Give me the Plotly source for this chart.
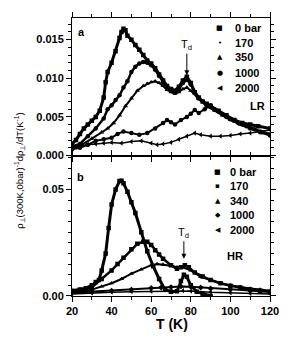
import plotly.graph_objects as go

# ---------------- data: panel a (LR) ----------------
a_labels = ["0 bar", "170", "350", "1000", "2000"]
a_symbols = ["square", "circle", "triangle-up", "circle", "triangle-left"]
a_glyphs = ["■", "•", "▲", "●", "◀"]

a0_T = [20, 22, 24, 26, 28, 30, 32, 34, 36, 37, 38, 40, 42, 44, 45, 46, 47, 48, 50, 52, 54, 56, 58, 60, 62, 64,
        66, 68, 70, 72, 74, 76, 78, 80, 82, 84, 86, 88, 90, 94, 98, 102, 106, 110, 114, 120]
a0_v = [0.0015, 0.0020, 0.0028, 0.0035, 0.0040, 0.0045, 0.0050, 0.0058, 0.0075, 0.0095, 0.0108, 0.0120, 0.0135,
        0.0152, 0.0160, 0.0164, 0.0162, 0.0155, 0.0150, 0.0143, 0.0137, 0.0130, 0.0123, 0.0119, 0.0113, 0.0105,
        0.0097, 0.0090, 0.0086, 0.0084, 0.0089, 0.0097, 0.0102, 0.0094, 0.0082, 0.0075, 0.0070, 0.0067, 0.0064,
        0.0058, 0.0052, 0.0046, 0.0042, 0.0040, 0.0038, 0.0035]

a1_T = [20, 24, 28, 32, 36, 38, 40, 42, 44, 46, 48, 50, 52, 54, 56, 58, 60, 62, 64, 66, 68, 70, 72, 74, 76, 78,
        80, 82, 84, 88, 92, 96, 100, 104, 108, 112, 116, 120]
a1_v = [0.0012, 0.0015, 0.0025, 0.0035, 0.0048, 0.0060, 0.0065, 0.0072, 0.0078, 0.0088, 0.0096, 0.0108, 0.0115,
        0.0119, 0.0121, 0.0120, 0.0117, 0.0111, 0.0103, 0.0095, 0.0088, 0.0084, 0.0082, 0.0086, 0.0094, 0.0098,
        0.0092, 0.0082, 0.0074, 0.0066, 0.0060, 0.0053, 0.0047, 0.0042, 0.0038, 0.0034, 0.0030, 0.0027]

a2_T = [20, 25, 30, 35, 38, 41, 44, 47, 50, 53, 56, 58, 60, 62, 64, 66, 68, 70, 72, 74, 76, 78, 80, 84, 88, 92,
        96, 100, 105, 110, 115, 120]
a2_v = [0.0010, 0.0014, 0.0022, 0.0030, 0.0035, 0.0042, 0.0052, 0.0064, 0.0074, 0.0084, 0.0090, 0.0093, 0.0095,
        0.0096, 0.0094, 0.0090, 0.0085, 0.0082, 0.0080, 0.0082, 0.0086, 0.0088, 0.0084, 0.0073, 0.0064, 0.0058,
        0.0052, 0.0046, 0.0040, 0.0035, 0.0031, 0.0028]

a3_T = [20, 24, 28, 32, 36, 40, 43, 46, 50, 54, 58, 62, 66, 68, 70, 72, 75, 78, 80, 82, 84, 87, 90, 94, 98, 102,
        106, 110, 115, 120]
a3_v = [0.0008, 0.0010, 0.0014, 0.0019, 0.0021, 0.0023, 0.0028, 0.0031, 0.0029, 0.0027, 0.0029, 0.0035, 0.0042,
        0.0046, 0.0043, 0.0040, 0.0046, 0.0050, 0.0054, 0.0059, 0.0055, 0.0060, 0.0065, 0.0057, 0.0050, 0.0045,
        0.0040, 0.0035, 0.0030, 0.0026]

a4_T = [20, 24, 28, 32, 36, 40, 45, 50, 55, 60, 63, 66, 70, 74, 78, 82, 85, 90, 95, 100, 105, 110, 115, 120]
a4_v = [0.0008, 0.0012, 0.0014, 0.0015, 0.0016, 0.0017, 0.0016, 0.0018, 0.0019, 0.0016, 0.0014, 0.0015, 0.0017,
        0.0021, 0.0025, 0.0029, 0.0027, 0.0025, 0.0025, 0.0026, 0.0028, 0.0029, 0.0031, 0.0033]

# ---------------- data: panel b (HR) ----------------
b_labels = ["0 bar", "170", "340", "1000", "2000"]
b_symbols = ["square", "square", "triangle-up", "diamond", "triangle-left"]
b_glyphs = ["■", "▪", "▲", "◆", "◀"]

b0_T = [20, 24, 27, 30, 32, 33.6, 35, 37, 38.5, 40, 42, 44, 45, 46, 48, 50, 52, 55, 58, 61, 64, 67, 70, 73, 75,
        76.5, 78, 80, 83, 86, 90]
b0_v = [0.0025, 0.0030, 0.0037, 0.0050, 0.0066, 0.0075, 0.0120, 0.0200, 0.0320, 0.0430, 0.0500, 0.0540, 0.0542,
        0.0530, 0.0490, 0.0440, 0.0390, 0.0300, 0.0210, 0.0140, 0.0080, 0.0030, 0.0020, 0.0022, 0.0070, 0.0100,
        0.0090, 0.0050, 0.0020, 0.0010, 0.0000]

b1_T = [20, 25, 30, 35, 40, 43, 46, 50, 53, 56, 58, 60, 62, 64, 66, 70, 73, 75, 77, 79, 82, 86, 90, 95, 100, 105,
        110, 115, 120]
b1_v = [0.0020, 0.0025, 0.0040, 0.0080, 0.0120, 0.0150, 0.0180, 0.0220, 0.0245, 0.0255, 0.0255, 0.0240, 0.0215,
        0.0195, 0.0175, 0.0145, 0.0128, 0.0135, 0.0145, 0.0135, 0.0110, 0.0092, 0.0075, 0.0060, 0.0048, 0.0040,
        0.0030, 0.0025, 0.0020]

b2_T = [20, 25, 30, 35, 40, 45, 50, 55, 60, 63, 66, 70, 73, 76, 80, 85, 90, 95, 100, 105, 110, 115, 120]
b2_v = [0.0015, 0.0020, 0.0030, 0.0045, 0.0060, 0.0080, 0.0105, 0.0125, 0.0145, 0.0150, 0.0148, 0.0142, 0.0135,
        0.0135, 0.0120, 0.0090, 0.0075, 0.0060, 0.0050, 0.0042, 0.0035, 0.0030, 0.0025]

b3_T = [20, 30, 40, 50, 60, 65, 70, 75, 80, 85, 90, 100, 110, 120]
b3_v = [0.0015, 0.0020, 0.0025, 0.0030, 0.0038, 0.0040, 0.0042, 0.0045, 0.0043, 0.0040, 0.0035, 0.0030, 0.0025,
        0.0020]

b4_T = [20, 30, 40, 50, 60, 70, 76, 80, 90, 100, 110, 120]
b4_v = [0.0010, 0.0015, 0.0018, 0.0020, 0.0022, 0.0023, 0.0025, 0.0023, 0.0018, 0.0015, 0.0012, 0.0010]

# tick labels
x_ticks = [20, 40, 60, 80, 100, 120]
a_yticks = [0.000, 0.005, 0.010, 0.015]
b_yticks = [0.00, 0.05]

a_series = [(a0_T, a0_v), (a1_T, a1_v), (a2_T, a2_v), (a3_T, a3_v), (a4_T, a4_v)]
b_series = [(b0_T, b0_v), (b1_T, b1_v), (b2_T, b2_v), (b3_T, b3_v), (b4_T, b4_v)]

FONT = "Liberation Sans, Arial, sans-serif"

fig = go.Figure()
a_widths = [3, 2.5, 2, 2, 1.5]
b_widths = [3, 2.5, 2, 2, 1.5]
for (T, v), sym, name, lw in zip(a_series, a_symbols, a_labels, a_widths):
    fig.add_trace(go.Scatter(x=T, y=v, mode="lines+markers", name=name, xaxis="x2", yaxis="y2",
                             line=dict(color="black", width=lw),
                             marker=dict(symbol=sym, size=4.5, color="black"), showlegend=False))
for (T, v), sym, name, lw in zip(b_series, b_symbols, b_labels, b_widths):
    fig.add_trace(go.Scatter(x=T, y=v, mode="lines+markers", name=name, xaxis="x", yaxis="y",
                             line=dict(color="black", width=lw),
                             marker=dict(symbol=sym, size=4.5, color="black"), showlegend=False))

W, H = 291, 341
L, R, Tm, B = 72, 15, 13, 45
plot_h = H - Tm - B
split = (296 - 153) / plot_h

axis_common = dict(showline=True, linecolor="black", linewidth=1, mirror="ticks", ticks="outside",
                   ticklen=5, tickwidth=1, tickcolor="black", showgrid=False, zeroline=False,
                   tickfont=dict(family=FONT, size=11, color="black", weight="bold"))

fig.update_layout(
    width=W, height=H, margin=dict(l=L, r=R, t=Tm, b=B),
    paper_bgcolor="white", plot_bgcolor="white", showlegend=False,
    font=dict(family=FONT, color="black"),
    xaxis=dict(axis_common, range=[20, 120], tickvals=x_ticks, anchor="y", domain=[0, 1],
               minor=dict(dtick=10, tick0=0, ticklen=3, ticks="outside", tickcolor="black", showgrid=False)),
    xaxis2=dict(axis_common, range=[20, 120], tickvals=x_ticks, anchor="y2", matches="x", showticklabels=False,
                domain=[0, 1],
                minor=dict(dtick=10, tick0=0, ticklen=3, ticks="outside", tickcolor="black", showgrid=False)),
    yaxis=dict(axis_common, range=[0, 0.066], tickvals=b_yticks, tickformat=".2f", domain=[0, split],
               anchor="x",
               minor=dict(dtick=0.005, tick0=0, ticklen=3, ticks="outside", tickcolor="black", showgrid=False)),
    yaxis2=dict(axis_common, range=[0, 0.0178], tickvals=a_yticks, tickformat=".3f", domain=[split, 1],
                anchor="x2",
                minor=dict(dtick=0.001, tick0=0, ticklen=3, ticks="outside", tickcolor="black", showgrid=False)),
)

# helpers: convert window-pixel positions of the reference into paper coords
def px_x(p):
    return (p - L) / (W - L - R)

def px_y(q):
    return (H - B - q) / plot_h

ann = []
# panel letters
ann.append(dict(text="<b>a</b>", x=px_x(82), y=px_y(27), xref="paper", yref="paper", showarrow=False,
                font=dict(size=11, family=FONT), xanchor="center", yanchor="middle"))
ann.append(dict(text="<b>b</b>", x=px_x(81), y=px_y(175), xref="paper", yref="paper", showarrow=False,
                font=dict(size=11, family=FONT), xanchor="center", yanchor="middle"))

# legends (as text)
a_rows = [23, 38, 53, 69, 84]
for g, lab, yy in zip(a_glyphs, a_labels, a_rows):
    ann.append(dict(text=g, x=px_x(224), y=px_y(yy), xref="paper", yref="paper", showarrow=False,
                    font=dict(size=7, family="DejaVu Sans"), xanchor="center", yanchor="middle"))
    ann.append(dict(text="<b>" + lab + "</b>", x=px_x(238), y=px_y(yy), xref="paper", yref="paper",
                    showarrow=False, font=dict(size=11, family=FONT), xanchor="left", yanchor="middle"))
ann.append(dict(text="<b>LR</b>", x=px_x(263), y=px_y(103), xref="paper", yref="paper", showarrow=False,
                font=dict(size=11, family=FONT), xanchor="center", yanchor="middle"))

b_rows = [170, 184, 199, 214, 229]
for g, lab, yy in zip(b_glyphs, b_labels, b_rows):
    ann.append(dict(text=g, x=px_x(222), y=px_y(yy), xref="paper", yref="paper", showarrow=False,
                    font=dict(size=7, family="DejaVu Sans"), xanchor="center", yanchor="middle"))
    ann.append(dict(text="<b>" + lab + "</b>", x=px_x(233), y=px_y(yy), xref="paper", yref="paper",
                    showarrow=False, font=dict(size=11, family=FONT), xanchor="left", yanchor="middle"))
ann.append(dict(text="<b>HR</b>", x=px_x(240), y=px_y(255), xref="paper", yref="paper", showarrow=False,
                font=dict(size=11, family=FONT), xanchor="center", yanchor="middle"))

# T_d arrows
ann.append(dict(text="T<sub>d</sub>", x=78, y=0.0104, xref="x2", yref="y2", showarrow=True,
                arrowhead=2, arrowsize=1, arrowwidth=1, arrowcolor="black", ax=0, ay=-30,
                font=dict(size=11, family=FONT)))
ann.append(dict(text="T<sub>d</sub>", x=76.5, y=0.0175, xref="x", yref="y", showarrow=True,
                arrowhead=2, arrowsize=1, arrowwidth=1, arrowcolor="black", ax=0, ay=-26,
                font=dict(size=11, family=FONT)))

# axis titles
ann.append(dict(text="<b>T (K)</b>", x=px_x(175), y=px_y(325), xref="paper", yref="paper", showarrow=False,
                font=dict(size=14, family=FONT), xanchor="center", yanchor="middle"))
ann.append(dict(text="ρ<sub>⊥</sub>(300K,0bar)<sup>-1</sup>dρ<sub>⊥</sub>/dT(K<sup>-1</sup>)",
                x=px_x(18), y=px_y(169), xref="paper", yref="paper", showarrow=False, textangle=-90,
                font=dict(size=9.5, family=FONT), xanchor="center", yanchor="middle"))

fig.update_layout(annotations=ann)
fig.write_html(
    "out.html",
    config={"displayModeBar": False},
    post_script="document.body.style.margin='0';document.body.style.overflow='hidden';",
)
